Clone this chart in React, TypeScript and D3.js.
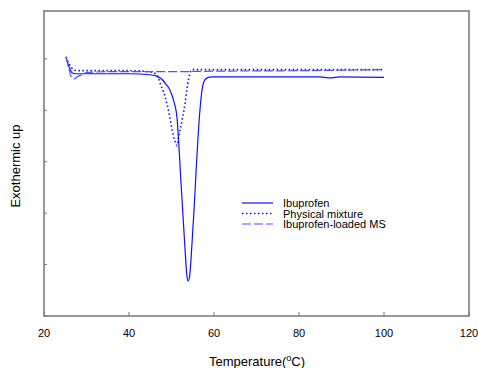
import React from "react";
import * as d3 from "d3";

const xTicks = [20, 40, 60, 80, 100, 120];
const yTicks = [0, 1, 2, 3, 4, 5];

const ibuprofen: [number, number][] = [
  [25.2, 5.02], [25.9, 4.84], [26.6, 4.73], [27.5, 4.71], [33.2, 4.71], [40.2, 4.71],
  [44.9, 4.69], [47.3, 4.63], [48.7, 4.51], [49.6, 4.4], [50.6, 4.16], [51.3, 3.85],
  [51.8, 3.23], [52.2, 2.65], [52.7, 1.96], [53.2, 1.28], [53.6, 0.8], [53.9, 0.68],
  [54.3, 0.8], [54.8, 1.38], [55.3, 2.06], [55.8, 2.84], [56.2, 3.42], [56.7, 4.01],
  [57.2, 4.4], [57.6, 4.55], [58.4, 4.63], [59.5, 4.65], [63.8, 4.65], [70.8, 4.65],
  [84.9, 4.65], [87.3, 4.63], [89.6, 4.65], [100, 4.64],
];

const physicalMixture: [number, number][] = [
  [25.2, 5.04], [25.9, 4.9], [27.0, 4.79], [28, 4.77], [40, 4.77], [44.5, 4.75],
  [46.0, 4.72], [46.6, 4.69], [47.3, 4.53], [48.5, 4.26], [49.6, 3.87], [50.4, 3.52],
  [51.0, 3.36], [51.3, 3.31], [51.6, 3.45], [52.5, 3.81], [53.2, 4.14], [53.6, 4.4],
  [54.4, 4.73], [54.8, 4.79], [60, 4.79], [80, 4.79], [100, 4.79],
];

const loadedMS: [number, number][] = [
  [25.2, 5.04], [25.9, 4.8], [26.4, 4.65], [27.1, 4.61], [27.8, 4.65], [28.9, 4.69],
  [30, 4.73], [35, 4.75], [50, 4.75], [60, 4.76], [80, 4.77], [100, 4.79],
];

const seriesNames = ["Ibuprofen", "Physical mixture", "Ibuprofen-loaded MS"];

export default function App() {
  const W = 478, H = 368;
  const left = 44, right = 469, top = 11, bottom = 316;
  const x = d3.scaleLinear().domain([20, 120]).range([left, right]);
  const y = d3.scaleLinear().domain([0, 5.93]).range([bottom, top]);
  const line = d3.line<[number, number]>().x(d => x(d[0])).y(d => y(d[1])).curve(d3.curveMonotoneX);
  const font = "'Liberation Sans', Arial, sans-serif";
  const styles = [
    { stroke: "#1010ff", dash: undefined as string | undefined, w: 1.2 },
    { stroke: "#1010ff", dash: "1.5,2.5", w: 1.6 },
    { stroke: "#5050ff", dash: "9,3", w: 1.2 },
  ];
  const data = [ibuprofen, physicalMixture, loadedMS];
  const legY = [203, 213.5, 224];
  return (
    <svg width={W} height={H} style={{ position: "absolute", left: 0, top: 0 }} fontFamily={font}>
      <rect x={0} y={0} width={W} height={H} fill="#fff" />
      {data.map((d, i) => (
        <path key={i} d={line(d) || ""} fill="none" stroke={styles[i].stroke}
          strokeWidth={styles[i].w} strokeDasharray={styles[i].dash} />
      ))}
      <rect x={left} y={top} width={right - left} height={bottom - top} fill="none" stroke="#777" strokeWidth={1.5} />
      {xTicks.map(t => (
        <g key={t}>
          <line x1={x(t)} x2={x(t)} y1={bottom} y2={bottom - 4} stroke="#777" strokeWidth={1} />
          <text x={x(t)} y={bottom + 21} fontSize={11} textAnchor="middle" fill="#000">{t}</text>
        </g>
      ))}
      {yTicks.map(t => (
        <line key={t} x1={left} x2={left + 3} y1={y(t)} y2={y(t)} stroke="#777" strokeWidth={1} />
      ))}
      <text x={257} y={366} fontSize={13} textAnchor="middle" fill="#000">
        Temperature(<tspan fontSize={9} dy={-5}>o</tspan><tspan dy={5}>C)</tspan>
      </text>
      <text transform="translate(20,166) rotate(-90)" fontSize={13} textAnchor="middle" fill="#000">Exothermic up</text>
      {seriesNames.map((n, i) => (
        <g key={n}>
          <line x1={242} x2={273} y1={legY[i]} y2={legY[i]} stroke={styles[i].stroke}
            strokeWidth={styles[i].w} strokeDasharray={styles[i].dash} />
          <text x={283} y={legY[i] + 4} fontSize={11} fill="#000">{n}</text>
        </g>
      ))}
    </svg>
  );
}
